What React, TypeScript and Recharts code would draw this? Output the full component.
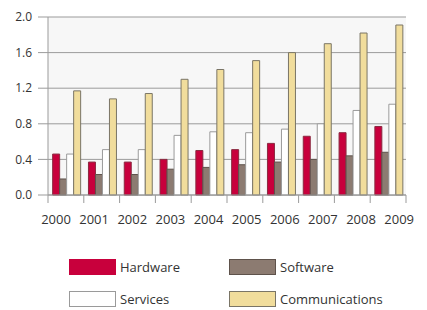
import React from "react";
import { BarChart, Bar, XAxis, YAxis, CartesianGrid } from "recharts";

const years = ["2000", "2001", "2002", "2003", "2004", "2005", "2006", "2007", "2008", "2009"];
const hardware = [0.46, 0.37, 0.37, 0.4, 0.5, 0.51, 0.58, 0.66, 0.7, 0.77];
const software = [0.18, 0.23, 0.23, 0.29, 0.31, 0.34, 0.37, 0.4, 0.44, 0.48];
const services = [0.46, 0.51, 0.51, 0.67, 0.71, 0.7, 0.74, 0.8, 0.95, 1.02];
const communications = [1.17, 1.08, 1.14, 1.3, 1.41, 1.51, 1.6, 1.7, 1.82, 1.91];
const yTicks = [0, 0.4, 0.8, 1.2, 1.6, 2.0];

const data = years.map((y, i) => ({
  year: y,
  idx: i,
  hardware: hardware[i],
  software: software[i],
  services: services[i],
  communications: communications[i],
}));

const series = [
  { key: "hardware", name: "Hardware", fill: "#c8003c", stroke: "#8a2a40" },
  { key: "software", name: "Software", fill: "#8c7b71", stroke: "#5e524b" },
  { key: "services", name: "Services", fill: "#ffffff", stroke: "#9a9a9a" },
  { key: "communications", name: "Communications", fill: "#f1dd9c", stroke: "#7a7566" },
];

const FONT = "'Open Sans', 'Noto Sans', sans-serif";
const GRID = "#9b9b9b";

const BoundaryTick = (props: any) => {
  const { x, y, index, payload } = props;
  const half = payload && typeof payload.offset === "number" ? payload.offset : 17.9;
  const left = x - half;
  return (
    <g>
      <line x1={left} y1={y} x2={left} y2={y + 8} stroke={GRID} strokeWidth={1} />
      {index === years.length - 1 ? (
        <line x1={x + half} y1={y} x2={x + half} y2={y + 8} stroke={GRID} strokeWidth={1} />
      ) : null}
    </g>
  );
};

export default function App() {
  return (
    <div style={{ position: "relative", width: 419, height: 302, fontFamily: FONT }}>
      <BarChart
        width={419}
        height={230}
        data={data}
        margin={{ top: 9, right: 21, bottom: 5, left: 0 }}
        barCategoryGap="13%"
        barGap={0}
      >
        <CartesianGrid vertical={false} stroke={GRID} fill="#f7f7f7" fillOpacity={1} />
        <XAxis
          dataKey="year"
          height={8}
          axisLine={{ stroke: GRID }}
          tickLine={false}
          tickSize={0}
          tickMargin={0}
          tick={<BoundaryTick />}
          interval={0}
        />
        <XAxis
          xAxisId="lbl"
          dataKey="idx"
          type="number"
          domain={[-0.21, 9.18]}
          ticks={[0, 1, 2, 3, 4, 5, 6, 7, 8, 9]}
          allowDataOverflow
          interval={0}
          height={30}
          axisLine={false}
          tickLine={false}
          tickSize={0}
          tickMargin={12}
          tickFormatter={(v: number) => years[v]}
          tick={{ fill: "#333", fontSize: 13, fontFamily: FONT }}
        />
        <YAxis
          domain={[0, 2]}
          ticks={yTicks}
          width={40}
          interval={0}
          tickSize={10}
          tickMargin={6}
          axisLine={{ stroke: GRID }}
          tickLine={{ stroke: GRID }}
          tickFormatter={(v: number) => v.toFixed(1)}
          tick={{ fill: "#333", fontSize: 12, fontFamily: FONT }}
        />
        <YAxis
          yAxisId="r"
          orientation="right"
          domain={[0, 2]}
          width={0}
          tick={false}
          tickLine={false}
          axisLine={{ stroke: GRID }}
        />
        {series.map((s) => (
          <Bar
            key={s.key}
            dataKey={s.key}
            name={s.name}
            fill={s.fill}
            stroke={s.stroke}
            strokeWidth={1}
            isAnimationActive={false}
          />
        ))}
      </BarChart>
      {series.map((s, i) => {
        const col = i % 2;
        const row = Math.floor(i / 2);
        const left = col === 0 ? 61 : 221;
        const top = row === 0 ? 251 : 283;
        return (
          <div key={s.key} style={{ position: "absolute", left, top, display: "flex", alignItems: "center" }}>
            <div
              style={{
                width: 45,
                height: 14,
                background: s.fill,
                border: `1px solid ${s.key === "hardware" ? s.fill : s.stroke}`,
              }}
            />
            <span style={{ marginLeft: 4, fontSize: 13, color: "#333", lineHeight: "16px" }}>{s.name}</span>
          </div>
        );
      })}
    </div>
  );
}
